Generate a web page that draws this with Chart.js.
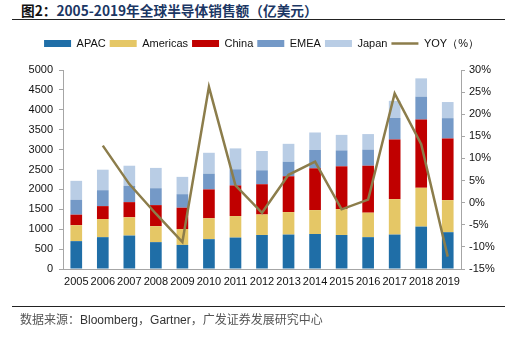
<!DOCTYPE html>
<html>
<head>
<meta charset="utf-8">
<script src="https://cdn.jsdelivr.net/npm/chart.js@4/dist/chart.umd.min.js"></script>
<style>
  html, body { margin: 0; padding: 0; background: #fff; }
  body { width: 523px; height: 342px; position: relative; overflow: hidden; font-family: Arial, "Liberation Sans", sans-serif; }
  #title { position: absolute; left: 21px; top: 0px; font: bold 13.7px "Noto Sans CJK SC", sans-serif; color: #1c3764; white-space: nowrap; }
  #title span { color: #111; }
  .rule { position: absolute; left: 12px; width: 493px; height: 1px; background: #222; }
  #source { position: absolute; left: 20px; top: 310px; font-size: 12px; color: #333; white-space: nowrap; }
  #source .cn { font-family: "Noto Sans CJK SC", sans-serif; color: #555; }
  #wrap { position: absolute; left: 0; top: 0; width: 523px; height: 342px; }
</style>
</head>
<body>
<div id="title"><span>图2：</span>2005-2019年全球半导体销售额（亿美元）</div>
<div class="rule" style="top:19px"></div>
<div id="wrap"><canvas id="chart"></canvas></div>
<div class="rule" style="top:306px"></div>
<div id="source"><span class="cn">数据来源：</span>Bloomberg<span class="cn">，</span>Gartner<span class="cn">，广发证券发展研究中心</span></div>

<script>
  // 年份
  const years = ['2005', '2006', '2007', '2008', '2009', '2010', '2011', '2012', '2013', '2014', '2015', '2016', '2017', '2018', '2019']

  // 各地区销售额（亿美元）
  const apac = [700, 800, 840, 675, 605, 750, 790, 855, 865, 880, 855, 800, 865, 1065, 925]
  const americas = [400, 455, 460, 400, 400, 525, 540, 515, 565, 600, 650, 615, 890, 975, 805]
  const china = [265, 325, 380, 530, 535, 725, 770, 760, 900, 1050, 1075, 1180, 1500, 1715, 1550]
  const emea = [375, 400, 410, 425, 340, 395, 405, 350, 365, 460, 400, 405, 540, 575, 510]
  const japan = [475, 515, 505, 510, 435, 525, 525, 485, 450, 440, 390, 390, 430, 460, 405]

  // 同比增速（%）
  const yoy = [null, 12.9, 4.2, -2.5, -8.9, 26.2, 3.9, -2.3, 6.3, 9.3, -1.5, 0.7, 24.7, 13.2, -12.2]

  const AXIS_GREY = '#a6a6a6'
  const TICK_FONT = { family: 'Arial', size: 11 }

  const barSet = (label, data, color) => ({
    type: 'bar',
    label,
    data,
    backgroundColor: color,
    borderWidth: 0,
    pointStyle: 'rect',
    yAxisID: 'y',
    barPercentage: 0.44,
    categoryPercentage: 1
  })

  // 图例下方多留一点空白
  const legendGap = {
    id: 'legendGap',
    beforeLayout: chart => {
      const legend = chart.legend
      if (!legend || legend._gapPatched) return
      const fit = legend.fit
      legend.fit = function () {
        fit.call(this)
        this.height += 11
      }
      legend._gapPatched = true
    }
  }

  new Chart(document.getElementById('chart'), {
    data: {
      labels: years,
      datasets: [
        barSet('APAC', apac, '#1f6ea7'),
        barSet('Americas', americas, '#e5c766'),
        barSet('China', china, '#c00000'),
        barSet('EMEA', emea, '#7499c7'),
        barSet('Japan', japan, '#b9cde5'),
        {
          type: 'line',
          label: 'YOY（%）',
          data: yoy,
          borderColor: '#8c7d4b',
          backgroundColor: '#8c7d4b',
          borderWidth: 2.5,
          pointRadius: 0,
          pointStyle: 'line',
          tension: 0,
          yAxisID: 'y1',
          order: -1
        }
      ]
    },
    plugins: [legendGap],
    options: {
      responsive: true,
      maintainAspectRatio: false,
      animation: false,
      layout: { padding: { top: 34, left: 0, right: 0, bottom: 53 } },
      plugins: {
        tooltip: { enabled: false },
        legend: {
          position: 'top',
          labels: {
            usePointStyle: true,
            pointStyleWidth: 27,
            boxHeight: 7,
            padding: 4,
            color: '#111',
            font: { family: 'Arial', size: 11 },
            sort: (a, b) => a.datasetIndex - b.datasetIndex
          }
        }
      },
      scales: {
        x: {
          stacked: true,
          grid: { display: false, drawTicks: false },
          border: { color: AXIS_GREY, width: 1 },
          ticks: { color: '#111', font: TICK_FONT, maxRotation: 0, autoSkip: false, padding: 6 },
          afterFit: s => { s.height = 20 }
        },
        y: {
          stacked: true,
          position: 'left',
          min: 0,
          max: 5000,
          ticks: { stepSize: 500, color: '#111', font: TICK_FONT, padding: 6, callback: v => String(v) },
          grid: { drawOnChartArea: false, color: AXIS_GREY, tickLength: 4 },
          border: { color: AXIS_GREY, width: 1 },
          afterFit: s => { s.width = 63 }
        },
        y1: {
          position: 'right',
          min: -15,
          max: 30,
          ticks: { stepSize: 5, color: '#111', font: TICK_FONT, padding: 4, callback: v => v + '%' },
          grid: { drawOnChartArea: false, color: AXIS_GREY, tickLength: 4 },
          border: { color: AXIS_GREY, width: 1 },
          afterFit: s => { s.width = 62 }
        }
      }
    }
  })
</script>
</body>
</html>
